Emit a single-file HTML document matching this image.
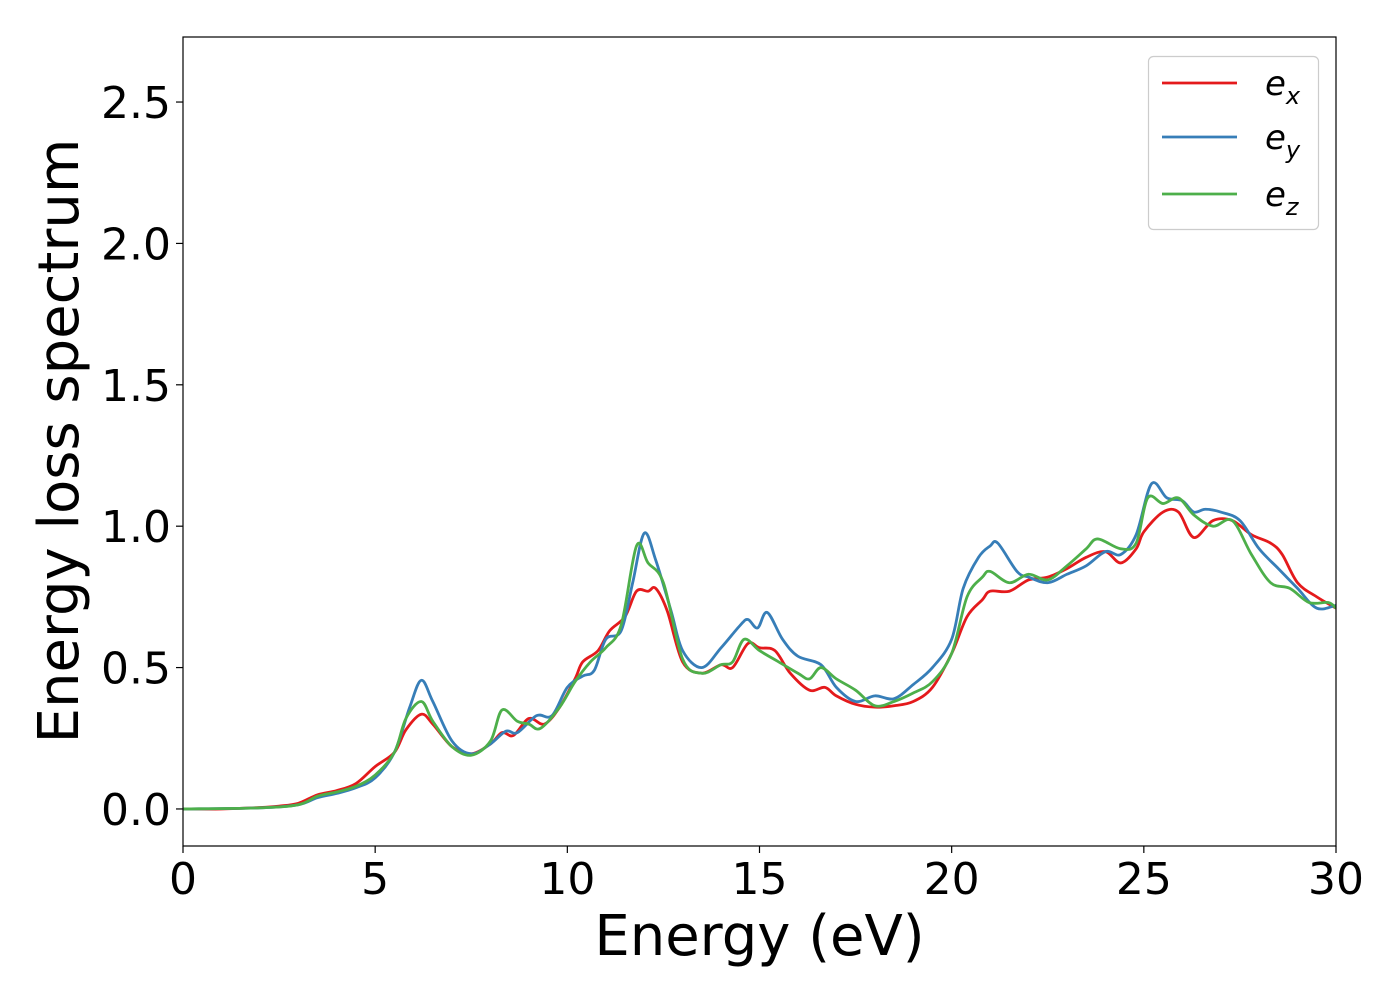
<!DOCTYPE html>
<html><head><meta charset="utf-8"><style>
html,body{margin:0;padding:0;background:#fff;}
svg text{font-family:"DejaVu Sans","Liberation Sans",sans-serif;fill:#000;}
</style></head><body>
<svg id="chart" width="1400" height="1000" xmlns="http://www.w3.org/2000/svg">
<rect width="1400" height="1000" fill="#fff"/>
<g id="series"></g>
<g id="axes"></g>
</svg>
<script>
const xTicks=[0,5,10,15,20,25,30];
const yTicks=[0.0,0.5,1.0,1.5,2.0,2.5];
const yTickLabels=["0.0","0.5","1.0","1.5","2.0","2.5"];
const exE=[0,1,2,2.5,3,3.5,4,4.5,5,5.5,5.8,6.2,6.5,7,7.5,8,8.3,8.6,9,9.4,9.8,10.2,10.4,10.8,11.1,11.5,11.8,12.1,12.3,12.6,13,13.5,14,14.3,14.7,15,15.4,15.8,16.3,16.7,17,17.5,18,18.5,19,19.5,20,20.4,20.8,21,21.5,22,22.5,23,23.5,24,24.4,24.8,25,25.5,25.9,26.3,26.8,27.3,27.8,28.3,28.6,29,29.5,30];
const exV=[0,0,0.005,0.01,0.02,0.05,0.065,0.09,0.15,0.2,0.28,0.335,0.3,0.22,0.195,0.23,0.27,0.26,0.32,0.3,0.36,0.46,0.52,0.56,0.63,0.68,0.77,0.77,0.78,0.7,0.52,0.48,0.51,0.5,0.585,0.57,0.56,0.48,0.42,0.43,0.4,0.37,0.36,0.365,0.38,0.43,0.55,0.68,0.74,0.77,0.77,0.81,0.82,0.85,0.89,0.91,0.87,0.92,0.98,1.05,1.05,0.96,1.02,1.02,0.97,0.94,0.9,0.8,0.75,0.71];
const eyE=[0,2,3,3.5,4,4.5,5,5.5,5.9,6.2,6.5,7,7.5,8,8.4,8.7,9.2,9.6,10,10.4,10.7,11,11.4,11.7,12,12.3,12.7,13,13.5,14,14.5,14.7,14.95,15.2,15.6,16,16.6,17,17.5,18,18.5,19,19.5,20,20.3,20.7,21,21.2,21.7,22,22.5,23,23.5,24,24.4,24.8,25.2,25.6,26,26.3,26.6,27,27.5,28,28.5,29,29.5,30];
const eyV=[0,0.004,0.015,0.04,0.055,0.075,0.11,0.2,0.36,0.455,0.38,0.24,0.195,0.23,0.275,0.27,0.33,0.33,0.43,0.47,0.49,0.6,0.63,0.8,0.975,0.88,0.7,0.56,0.5,0.57,0.65,0.67,0.64,0.695,0.6,0.54,0.51,0.43,0.38,0.4,0.39,0.44,0.5,0.6,0.78,0.89,0.93,0.94,0.84,0.82,0.8,0.83,0.86,0.91,0.9,0.97,1.15,1.1,1.09,1.05,1.06,1.05,1.02,0.92,0.85,0.78,0.71,0.72];
const ezE=[0,2,3,3.5,4,4.5,5,5.5,5.8,6.2,6.5,7,7.5,8,8.3,8.7,9,9.3,9.8,10.2,10.6,11,11.4,11.8,12.1,12.5,13,13.5,14,14.3,14.6,15,15.5,16,16.3,16.6,17,17.5,18,18.5,19,19.5,20,20.4,20.8,21,21.5,22,22.5,23,23.5,23.8,24.4,24.8,25.1,25.5,25.9,26.3,26.8,27.3,27.8,28.3,28.8,29.3,29.8,30];
const ezV=[0,0.004,0.015,0.045,0.06,0.08,0.12,0.2,0.32,0.38,0.31,0.22,0.19,0.24,0.35,0.31,0.3,0.285,0.36,0.45,0.52,0.57,0.65,0.93,0.87,0.8,0.53,0.48,0.51,0.52,0.6,0.56,0.52,0.48,0.46,0.5,0.46,0.42,0.365,0.38,0.41,0.45,0.55,0.75,0.82,0.84,0.8,0.83,0.81,0.86,0.92,0.955,0.92,0.94,1.1,1.08,1.1,1.04,1.0,1.02,0.9,0.8,0.78,0.73,0.73,0.71];
const seriesNames=["e_x","e_y","e_z"];
const L=183,R=1336,T=37,B=846,X0=0,X1=30,Y0=-0.131,Y1=2.73;
function sx(v){return L+(v-X0)/(X1-X0)*(R-L);}
function sy(v){return B-(v-Y0)/(Y1-Y0)*(B-T);}
const NS="http://www.w3.org/2000/svg";
function mk(tag,attrs,parent){const e=document.createElementNS(NS,tag);for(const k in attrs)e.setAttribute(k,attrs[k]);parent.appendChild(e);return e;}
function smoothPath(xs,ys){
  const p=xs.map((x,i)=>[sx(x),sy(ys[i])]);
  let d="M"+p[0][0]+","+p[0][1];
  for(let i=0;i<p.length-1;i++){
    const p0=p[i-1]||p[i],p1=p[i],p2=p[i+1],p3=p[i+2]||p2;
    const c1=[p1[0]+(p2[0]-p0[0])/6,p1[1]+(p2[1]-p0[1])/6];
    const c2=[p2[0]-(p3[0]-p1[0])/6,p2[1]-(p3[1]-p1[1])/6];
    d+=" C"+c1[0]+","+c1[1]+" "+c2[0]+","+c2[1]+" "+p2[0]+","+p2[1];
  }
  return d;
}
const sg=document.getElementById('series');
mk('clipPath',{id:'clip'},sg).appendChild(Object.assign(document.createElementNS(NS,'rect'),{}));
document.querySelector('#clip rect').setAttribute('x',L);
document.querySelector('#clip rect').setAttribute('y',T);
document.querySelector('#clip rect').setAttribute('width',R-L);
document.querySelector('#clip rect').setAttribute('height',B-T);
const cols=["#e41a1c","#377eb8","#4daf4a"];
const data=[[exE,exV],[eyE,eyV],[ezE,ezV]];
data.forEach((s,i)=>{
  const p=mk('path',{d:smoothPath(s[0],s[1]),fill:'none',stroke:cols[i],'stroke-width':2.8,'clip-path':'url(#clip)','stroke-linejoin':'round'},sg);
  
  
});
const ax=document.getElementById('axes');
const frame=mk('rect',{x:L,y:T,width:R-L,height:B-T,fill:'none',stroke:'#000','stroke-width':1.2},ax);


xTicks.forEach(v=>{
  mk('line',{x1:sx(v),x2:sx(v),y1:B,y2:B+7,stroke:'#000','stroke-width':1.2},ax);
  const t=mk('text',{x:sx(v),y:B+48,'font-size':44,'text-anchor':'middle'},ax);
  t.textContent=String(v);
  
  
});
yTicks.forEach((v,i)=>{
  mk('line',{x1:L-7,x2:L,y1:sy(v),y2:sy(v),stroke:'#000','stroke-width':1.2},ax);
  const t=mk('text',{x:L-12,y:sy(v)+16,'font-size':44,'text-anchor':'end'},ax);
  t.textContent=yTickLabels[i];
  
  
});
const xt=mk('text',{x:(L+R)/2,y:955,'font-size':56,'text-anchor':'middle'},ax);
xt.textContent="Energy (eV)";


const yt=mk('text',{x:0,y:0,'font-size':56,'text-anchor':'middle',transform:'translate(78,441) rotate(-90)'},ax);
yt.textContent="Energy loss spectrum";


const lg=mk('g',{},ax);


mk('rect',{x:1148.5,y:56.5,width:170,height:173,rx:5,fill:'#fff',stroke:'#ccc','stroke-width':1.2},lg);
const subs=["x","y","z"];
[83,137,194].forEach((yy,i)=>{
  const ln=mk('line',{x1:1162,x2:1237,y1:yy,y2:yy,stroke:cols[i],'stroke-width':2.8},lg);
  
  
  const t=mk('text',{x:1265,y:yy+12,'font-size':34,'font-style':'italic'},lg);
  
  
  t.textContent="e";
  const s=mk('tspan',{dy:9,'font-size':24},t);
  s.textContent=subs[i];
});
</script>
</body></html>
